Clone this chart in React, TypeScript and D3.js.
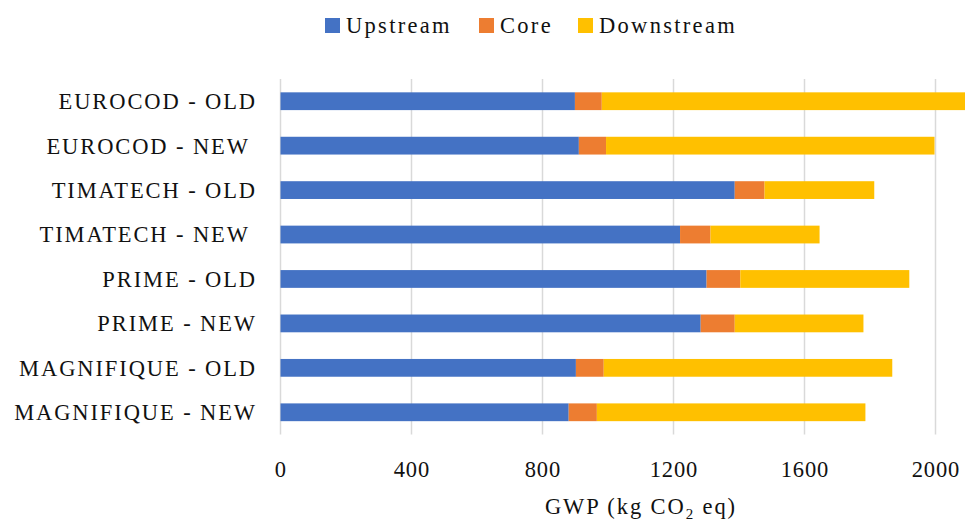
import React from "react";
import * as d3 from "d3";

const categories = [
  "EUROCOD - OLD",
  "EUROCOD - NEW ",
  "TIMATECH - OLD",
  "TIMATECH - NEW ",
  "PRIME - OLD",
  "PRIME - NEW",
  "MAGNIFIQUE - OLD",
  "MAGNIFIQUE - NEW",
];
const upstream = [899, 911, 1387, 1220, 1301, 1283, 902, 880];
const core = [82, 83, 91, 93, 103, 104, 85, 86];
const downstream = [1140, 1003, 335, 333, 516, 393, 881, 820];
const seriesNames = ["Upstream", "Core", "Downstream"];
const seriesColors = ["#4472C4", "#ED7D31", "#FFC000"];
const xTicks = [0, 400, 800, 1200, 1600, 2000];

const W = 965;
const H = 523;
const FONT = "'Liberation Serif', serif";
const FS = 22.5;

export default function App() {
  const x = d3.scaleLinear().domain([0, 2000]).range([280.5, 935.5]);
  const y = d3
    .scaleBand<string>()
    .domain(categories)
    .range([79, 434.5])
    .paddingInner(0.6)
    .paddingOuter(0.3);

  const rows = categories.map((c, i) => ({
    cat: c,
    Upstream: upstream[i],
    Core: core[i],
    Downstream: downstream[i],
  }));
  const stack = d3.stack<any>().keys(seriesNames)(rows);

  const legendX = [325, 479, 578];

  return (
    <svg
      width={W}
      height={H}
      style={{ position: "absolute", left: 0, top: 0, background: "#fff" }}
      fontFamily={FONT}
    >
      <rect x={0} y={0} width={W} height={H} fill="#fff" />
      {xTicks.map((t) => (
        <line
          key={t}
          x1={x(t)}
          x2={x(t)}
          y1={79}
          y2={434.5}
          stroke="#d9d9d9"
          strokeWidth={1.5}
        />
      ))}
      {stack.map((s, si) => (
        <g key={s.key} fill={seriesColors[si]}>
          {s.map((d, i) => (
            <rect
              key={i}
              x={x(d[0])}
              y={y(categories[i])!}
              width={x(d[1]) - x(d[0])}
              height={y.bandwidth()}
            />
          ))}
        </g>
      ))}
      {categories.map((c) => (
        <text
          key={c}
          x={257}
          y={y(c)! + y.bandwidth() / 2}
          dy="0.35em"
          textAnchor="end"
          fontSize={FS}
          letterSpacing={1.9}
          fill="#111"
          style={{ whiteSpace: "pre" }}
        >
          {c}
        </text>
      ))}
      {xTicks.map((t) => (
        <text
          key={t}
          x={x(t) + 0.4}
          y={477}
          textAnchor="middle"
          fontSize={FS}
          letterSpacing={0.8}
          fill="#111"
        >
          {t}
        </text>
      ))}
      <text
        x={641}
        y={514}
        textAnchor="middle"
        fontSize={FS}
        letterSpacing={1.9}
        fill="#111"
      >
        GWP (kg CO
        <tspan fontSize={15} dy={5}>
          2
        </tspan>
        <tspan dy={-5}> eq)</tspan>
      </text>
      {seriesNames.map((n, i) => (
        <g key={n}>
          <rect
            x={legendX[i]}
            y={18}
            width={15}
            height={15}
            fill={seriesColors[i]}
          />
          <text
            x={legendX[i] + 21}
            y={25.5}
            dy="0.35em"
            fontSize={FS}
            letterSpacing={2.3}
            fill="#111"
          >
            {n}
          </text>
        </g>
      ))}
    </svg>
  );
}
